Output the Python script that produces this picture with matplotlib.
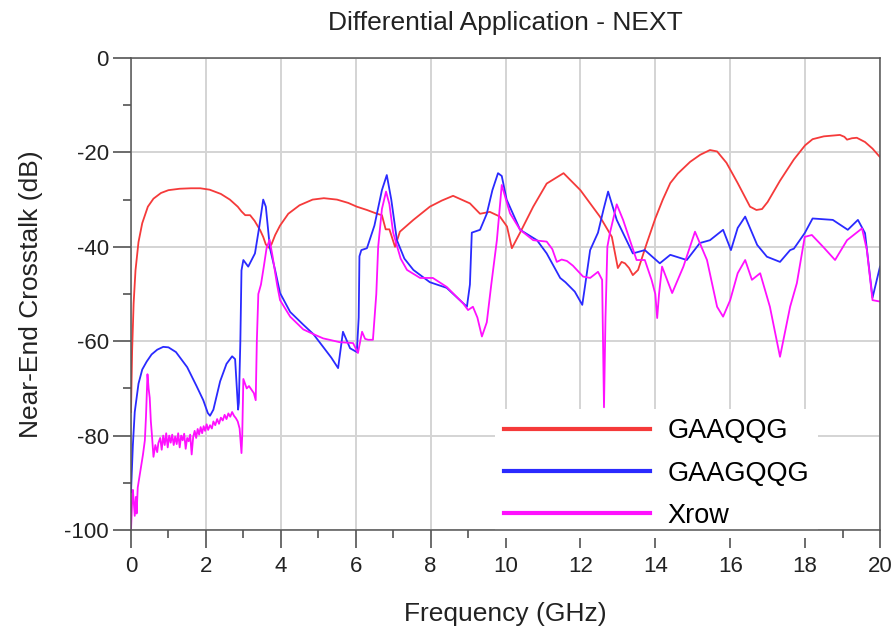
import matplotlib
matplotlib.use("Agg")
import matplotlib.pyplot as plt
from matplotlib.ticker import MultipleLocator

plt.rcParams['font.family'] = ['Liberation Sans', 'DejaVu Sans']
plt.rcParams['axes.unicode_minus'] = False

title = "Differential Application - NEXT"
xlabel = "Frequency (GHz)"
ylabel = "Near-End Crosstalk (dB)"
series_names = ["GAAQQG", "GAAGQQG", "Xrow"]

gaaqqg_f = [0.0, 0.03, 0.07, 0.12, 0.2, 0.3, 0.45, 0.6, 0.8, 1.0, 1.3, 1.6, 1.85, 2.1, 2.4,
            2.64, 2.85, 2.95, 3.05, 3.18, 3.3, 3.45, 3.53, 3.6, 3.68, 3.75, 3.85, 3.98, 4.2,
            4.5, 4.85, 5.15, 5.5, 5.8, 6.03, 6.3, 6.57, 6.7, 6.8, 6.9, 7.05, 7.18, 7.54, 7.98,
            8.3, 8.6, 9.05, 9.32, 9.58, 9.85, 10.04, 10.17, 10.39, 10.74, 11.1, 11.55, 12.0,
            12.52, 12.84, 13.0, 13.1, 13.19, 13.3, 13.4, 13.54, 13.77, 14.0, 14.2, 14.4, 14.6,
            14.93, 15.2, 15.46, 15.65, 15.9, 16.2, 16.53, 16.7, 16.85, 17.0, 17.33, 17.7, 18.0,
            18.2, 18.5, 18.93, 19.05, 19.12, 19.25, 19.38, 19.6, 19.8, 20.0]
gaaqqg_db = [-75, -62, -52, -45, -39, -35, -31.5, -29.8, -28.6, -28.0, -27.7, -27.6, -27.6, -27.9, -28.8,
             -30.0, -31.5, -32.5, -33.3, -33.3, -34.5, -36.5, -37.9, -39.5, -40.2, -39.5, -37.5, -35.5, -33,
             -31.2, -30, -29.7, -30, -30.7, -31.5, -32.2, -33, -33.3, -36.3, -36.3, -40, -36.8, -34.3, -31.5,
             -30.2, -29.2, -30.8, -33, -32.6, -33.6, -35.7, -40.3, -37, -31.5, -26.6, -24.4, -28,
             -33.6, -37.9, -44.5, -43.2, -43.5, -44.5, -46, -44.9, -39.3, -34, -30, -26.5, -24.5,
             -22, -20.5, -19.5, -19.8, -22.2, -26.5, -31.5, -32.2, -32, -30.5, -26, -21.5, -18.5,
             -17.2, -16.6, -16.3, -16.7, -17.3, -17.0, -16.9, -17.8, -19.2, -21]

gaagqqg_f = [0.0, 0.05, 0.1, 0.2, 0.3, 0.42, 0.55, 0.7, 0.86, 1.0, 1.2, 1.5, 1.75, 1.93, 2.05,
             2.11, 2.2, 2.38, 2.55, 2.7, 2.78, 2.86, 2.88, 2.92, 2.95, 3.0, 3.13, 3.31, 3.42,
             3.53, 3.6, 3.71, 3.85, 3.98, 4.25, 4.6, 4.87, 5.13, 5.35, 5.53, 5.66, 5.85, 6.03,
             6.08, 6.1, 6.15, 6.3, 6.5, 6.7, 6.83, 6.95, 7.1, 7.3, 7.54, 7.98, 8.43, 8.97, 9.05,
             9.1, 9.32, 9.5, 9.65, 9.8, 9.9, 10.03, 10.39, 10.84, 11.1, 11.46, 11.6, 11.85, 12.05,
             12.12, 12.26, 12.47, 12.62, 12.74, 12.97, 13.4, 13.72, 14.12, 14.4, 14.84, 15.19,
             15.46, 15.81, 16.02, 16.2, 16.4, 16.72, 16.98, 17.33, 17.6, 17.7, 17.99, 18.2,
             18.74, 19.14, 19.41, 19.6, 19.8, 20.0]
gaagqqg_db = [-92, -82, -75, -69, -66, -64.3, -62.8, -61.8, -61.2, -61.3, -62.3, -65.5, -69.5, -72.5, -75.2,
              -75.8, -74.5, -68.5, -64.8, -63.2, -63.8, -74.5, -73, -60, -45, -42.8, -44.2, -41.4, -36,
              -30, -31.5, -40.3, -45, -49.8, -53.8, -56.5, -58.5, -61.2, -63.5, -65.7, -58, -61.5, -62.3,
              -55, -42, -40.7, -40.3, -35.5, -28, -24.8, -30, -38.6, -42.5, -44.9, -47.5, -48.7, -52.7, -48,
              -37, -36.4, -33, -28, -24.4, -25, -30, -36.4, -38.6, -41.4, -46.6, -47.5, -49.5, -52.3,
              -48.5, -40.7, -37, -32, -28.3, -34.3, -41.4, -40.7, -43.5, -41.7, -42.8, -39.2,
              -38.6, -36.4, -40.7, -36, -33.6, -39.6, -42.1, -43.2, -40.7, -40.4, -37.1, -34,
              -34.3, -36.4, -34.3, -37.1, -50.8, -44.2]

xrow_f = [0.0, 0.03, 0.05, 0.08, 0.1, 0.13, 0.15, 0.18, 0.2, 0.24, 0.28, 0.32, 0.37, 0.4, 0.44,
          0.47, 0.5, 0.53, 0.56, 0.6, 0.65, 0.7, 0.73, 0.78, 0.82, 0.86, 0.9, 0.94, 0.98, 1.02,
          1.06, 1.1, 1.14, 1.18, 1.22, 1.26, 1.3, 1.34, 1.38, 1.42, 1.46, 1.5, 1.54, 1.58, 1.62,
          1.66, 1.7, 1.74, 1.78, 1.82, 1.86, 1.9, 1.94, 1.98, 2.02, 2.06, 2.11, 2.16, 2.2, 2.25,
          2.3, 2.35, 2.4, 2.45, 2.5, 2.55, 2.6, 2.65, 2.7, 2.75, 2.8, 2.85, 2.9, 2.95, 2.97, 3.0,
          3.09, 3.15, 3.22, 3.28, 3.33, 3.36, 3.4, 3.47, 3.55, 3.62, 3.7, 3.78, 3.9, 3.98, 4.25,
          4.6, 4.87, 5.13, 5.57, 5.93, 6.06, 6.17, 6.25, 6.33, 6.46, 6.55, 6.6, 6.7, 6.81, 6.9,
          7.0, 7.2, 7.37, 7.72, 8.06, 8.43, 8.87, 9.0, 9.13, 9.25, 9.37, 9.5, 9.62, 9.77, 9.9,
          10.12, 10.39, 10.74, 11.1, 11.25, 11.37, 11.5, 11.64, 11.8, 12.07, 12.26, 12.47, 12.58,
          12.63, 12.67, 12.72, 12.79, 12.97, 13.14, 13.5, 13.72, 13.9, 14.0, 14.05, 14.1, 14.18,
          14.45, 14.75, 15.06, 15.38, 15.65, 15.81, 16.0, 16.2, 16.4, 16.58, 16.8, 17.06, 17.33,
          17.6, 17.78, 17.99, 18.18, 18.48, 18.8, 19.12, 19.52, 19.65, 19.8, 20.0]
xrow_db = [-100, -94, -91.5, -95, -97, -93, -96.5, -91, -90, -88, -86, -84, -81, -76, -67,
           -70, -72, -77, -80, -84.5, -82, -83.5, -81.6, -80.5, -83, -80, -82, -79.5, -82.5, -80,
           -81.5, -79.8, -82, -80.2, -81.8, -79.5, -82.5, -80, -81, -79.6, -82.8, -80.5, -81.2, -79.8, -84,
           -80.3, -79, -80.5, -78.6, -79.8, -78.2, -79.5, -78, -79, -77.6, -78.8, -77.8, -78.5, -77, -77.8,
           -76.5, -77.5, -76.2, -76.8, -75.6, -76.5, -75.3, -76, -75, -75.8, -76.3, -77, -78.5, -83.7, -80, -68,
           -70, -69.5, -70.3, -71, -72.5, -60, -50, -48, -44, -40.3, -38.5, -42, -48, -51.3, -54.8,
           -57.5, -58.5, -59.4, -60.2, -60.4, -62.5, -58, -59.5, -59.7, -59.7, -50, -40, -32, -28.3, -31,
           -37, -42.5, -44.9, -46.6, -46.6, -48.5, -52, -53.4, -52.7, -55, -59, -56, -48, -38.6, -26.9,
           -32.9, -36.4, -38.6, -38.9, -40.5, -43.2, -42.7, -43, -44, -46.3, -46.6, -45.3, -47,
           -74, -55, -40, -37, -31, -34.3, -42.8, -42.8, -47, -50, -55.1, -50, -44.2,
           -49.8, -44.2, -36.8, -42.8, -52.7, -54.8, -51.3, -45.6, -42.8, -47, -45.6, -52.7, -63.3,
           -52.7, -47.7, -37.9, -37.5, -40, -42.8, -38.6, -36.1, -40.7, -51.3, -51.6]

colors = ['#f53a3a', '#2a2aff', '#ff10ff']

fig = plt.figure(figsize=(8.94, 6.33), dpi=100)
ax = fig.add_axes([131/894, 1 - 530/633, 749/894, 472/633])

ax.plot(gaaqqg_f, gaaqqg_db, color=colors[0], lw=1.3, label=series_names[0], zorder=3)
ax.plot(gaagqqg_f, gaagqqg_db, color=colors[1], lw=1.3, label=series_names[1], zorder=3)
ax.plot(xrow_f, xrow_db, color=colors[2], lw=1.3, label=series_names[2], zorder=3)

ax.set_xlim(0, 20)
ax.set_ylim(-100, 0)
ax.xaxis.set_major_locator(MultipleLocator(2))
ax.xaxis.set_minor_locator(MultipleLocator(1))
ax.yaxis.set_major_locator(MultipleLocator(20))
ax.yaxis.set_minor_locator(MultipleLocator(10))
ax.grid(True, which='major', color='#d4d4d4', lw=1.4, zorder=0)
ax.set_axisbelow(True)

tc = '#444444'
ax.tick_params(which='major', direction='out', length=13, width=1.1, color=tc,
               labelsize=16, labelcolor='#222222')
ax.tick_params(which='minor', direction='out', length=6, width=1.1, color=tc)
ax.tick_params(axis='y', which='major', pad=3)
ax.tick_params(axis='x', which='major', pad=6)
for s in ax.spines.values():
    s.set_color('#555555')
    s.set_linewidth(1.1)
    s.set_zorder(6)

ax.set_title(title, fontsize=19, pad=20, color='#222222')
ax.set_xlabel(xlabel, fontsize=19, color='#222222')
ax.set_ylabel(ylabel, fontsize=19, color='#222222')
ax.xaxis.set_label_coords(0.5, -0.152)
ax.yaxis.set_label_coords(-0.118, 0.5)

leg = ax.legend(loc='lower left', bbox_to_anchor=(0.4965, 0.0), borderaxespad=0,
                fontsize=19.5, handlelength=5.4, handletextpad=0.63, labelspacing=0.6,
                frameon=True, fancybox=False, framealpha=1, facecolor='white',
                edgecolor='none', borderpad=0.04)
leg.get_frame().set_boxstyle('square', pad=0.3)
leg.set_zorder(5)
for line in leg.get_lines():
    line.set_linewidth(3)

fig.savefig('out.png', dpi=100)
